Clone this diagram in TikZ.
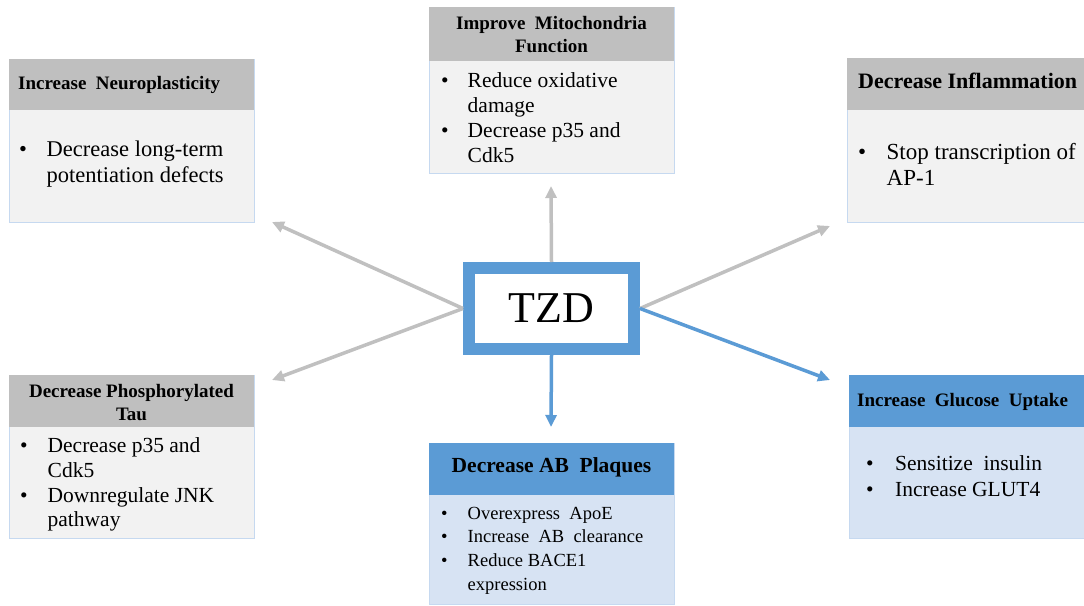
\documentclass[tikz,border=0pt]{standalone}
\usepackage{fontspec}
\setmainfont{Liberation Serif}
\usetikzlibrary{arrows.meta}
\definecolor{hgray}{HTML}{BFBFBF}
\definecolor{bgray}{HTML}{F2F2F2}
\definecolor{bord}{HTML}{C6D9F0}
\definecolor{tblue}{HTML}{5B9BD5}
\definecolor{lblue}{HTML}{D7E3F3}
\definecolor{agray}{HTML}{C0C0C0}
\tikzset{
  panel/.style={anchor=north west, inner sep=0, outer sep=0},
  hdrg/.style={panel, fill=hgray, draw=none},
  hdrb/.style={panel, fill=tblue, draw=none},
  bodyg/.style={panel, fill=bgray, draw=bord, line width=0.8pt},
  bodyb/.style={panel, fill=lblue, draw=bord, line width=0.8pt},
  htxt/.style={inner sep=0, font=\fontsize{19}{23.5}\selectfont\bfseries},
  hbig/.style={inner sep=0, font=\fontsize{22}{25}\selectfont\bfseries},
  btxt/.style={inner sep=0, anchor=base west, font=\fontsize{21.5}{25.3}\selectfont},
  garrow/.style={draw=agray, line width=3.5pt, -{Triangle[length=12pt,width=11pt]}},
  barrow/.style={draw=tblue, line width=3.5pt, -{Triangle[length=12pt,width=11pt]}},
}
\newcommand{\bl}[1]{\makebox[#1][l]{\textbullet}}
\begin{document}
\begin{tikzpicture}[x=1pt,y=-1pt]
\useasboundingbox (0,0) rectangle (1084,605);
\clip (0,0) rectangle (1084,605);
\fill[white] (0,0) rectangle (1084,605);

% ---- Box 1: Increase Neuroplasticity
\node[bodyg, minimum width=245, minimum height=163] (b1) at (9,59) {};
\node[hdrg, minimum width=245, minimum height=51] (h1) at (9,59) {};
\node[htxt, anchor=base west] (h1t) at (18,89) {Increase\ \ Neuroplasticity};
\node[btxt, font=\fontsize{22.5}{25.5}\selectfont] (b1t) at (19,156.5) {\begin{tabular}[t]{@{}l@{}l@{}}\bl{27.5pt} & Decrease long-term\\ & potentiation defects\end{tabular}};

% ---- Box 2: Improve Mitochondria Function
\node[bodyg, minimum width=245, minimum height=166] (b2) at (429,7) {};
\node[hdrg, minimum width=245, minimum height=54] (h2) at (429,7) {};
\node[htxt, anchor=base] (h2t) at (551.5,29) {\begin{tabular}[t]{@{}c@{}}Improve\ \ Mitochondria\\ Function\end{tabular}};
\node[btxt] (b2t) at (441,87) {\begin{tabular}[t]{@{}l@{}l@{}}\bl{26.5pt} & Reduce oxidative\\ & damage\\ \bl{26.5pt} & Decrease p35 and\\ & Cdk5\end{tabular}};

% ---- Box 3: Decrease Inflammation
\node[bodyg, minimum width=245, minimum height=164] (b3) at (847,58) {};
\node[hdrg, minimum width=245, minimum height=52] (h3) at (847,58) {};
\node[hbig, anchor=base west] (h3t) at (858,88) {Decrease Inflammation};
\node[btxt, font=\fontsize{23}{26}\selectfont] (b3t) at (858,159.5) {\begin{tabular}[t]{@{}l@{}l@{}}\bl{28.5pt} & Stop transcription of\\ & AP-1\end{tabular}};

% ---- Box 4: Decrease Phosphorylated Tau
\node[bodyg, minimum width=245, minimum height=163] (b4) at (9,375) {};
\node[hdrg, minimum width=245, minimum height=52] (h4) at (9,375) {};
\node[htxt, anchor=base] (h4t) at (131.5,397) {\begin{tabular}[t]{@{}c@{}}Decrease Phosphorylated\\ Tau\end{tabular}};
\node[btxt, font=\fontsize{21.5}{24.8}\selectfont] (b4t) at (20,452.5) {\begin{tabular}[t]{@{}l@{}l@{}}\bl{27.5pt} & Decrease p35 and\\ & Cdk5\\ \bl{27.5pt} & Downregulate JNK\\ & pathway\end{tabular}};

% ---- Box 5: Decrease AB Plaques
\node[bodyb, minimum width=245, minimum height=161] (b5) at (429,443) {};
\node[hdrb, minimum width=245, minimum height=52] (h5) at (429,443) {};
\node[hbig, anchor=base, font=\fontsize{21.5}{25}\selectfont\bfseries] (h5t) at (551.5,472.5) {Decrease AB\ \ Plaques};
\node[btxt, font=\fontsize{18.5}{23.7}\selectfont] (b5t) at (441,519) {\begin{tabular}[t]{@{}l@{}l@{}}\bl{26.5pt} & Overexpress\ \ ApoE\\ \bl{26.5pt} & Increase\ \ AB\ \ clearance\\ \bl{26.5pt} & Reduce BACE1\\ & expression\end{tabular}};

% ---- Box 6: Increase Glucose Uptake
\node[bodyb, minimum width=236, minimum height=163] (b6) at (849,375) {};
\node[hdrb, minimum width=236, minimum height=52] (h6) at (849,375) {};
\node[htxt, anchor=base west] (h6t) at (857,406.5) {Increase\ \ Glucose\ \ Uptake};
\node[btxt, font=\fontsize{21.5}{26.7}\selectfont] (b6t) at (866,470) {\begin{tabular}[t]{@{}l@{}l@{}}\bl{29pt} & Sensitize\ \ insulin\\ \bl{29pt} & Increase GLUT4\end{tabular}};

% ---- Centre
\node[draw=tblue, line width=12pt, fill=white, minimum width=165, minimum height=81,
      inner sep=0, font=\fontsize{44}{50}\selectfont] (tzd) at (551.5,308.5) {TZD};

% ---- Arrow ends
\coordinate (e1) at (272,222);
\coordinate (e2) at (551,186);
\coordinate (e3) at (830,226);
\coordinate (e4) at (272,380);
\coordinate (e5) at (551,427);
\coordinate (e6) at (830,380);

\draw[garrow] (tzd.west) -- (e1);
\draw[garrow] (tzd.west) -- (e4);
\draw[garrow] (tzd.north) -- (e2);
\draw[garrow] (tzd.east) -- (e3);
\draw[barrow] (tzd.east) -- (e6);
\draw[barrow] (tzd.south) -- (e5);
\end{tikzpicture}
\end{document}
